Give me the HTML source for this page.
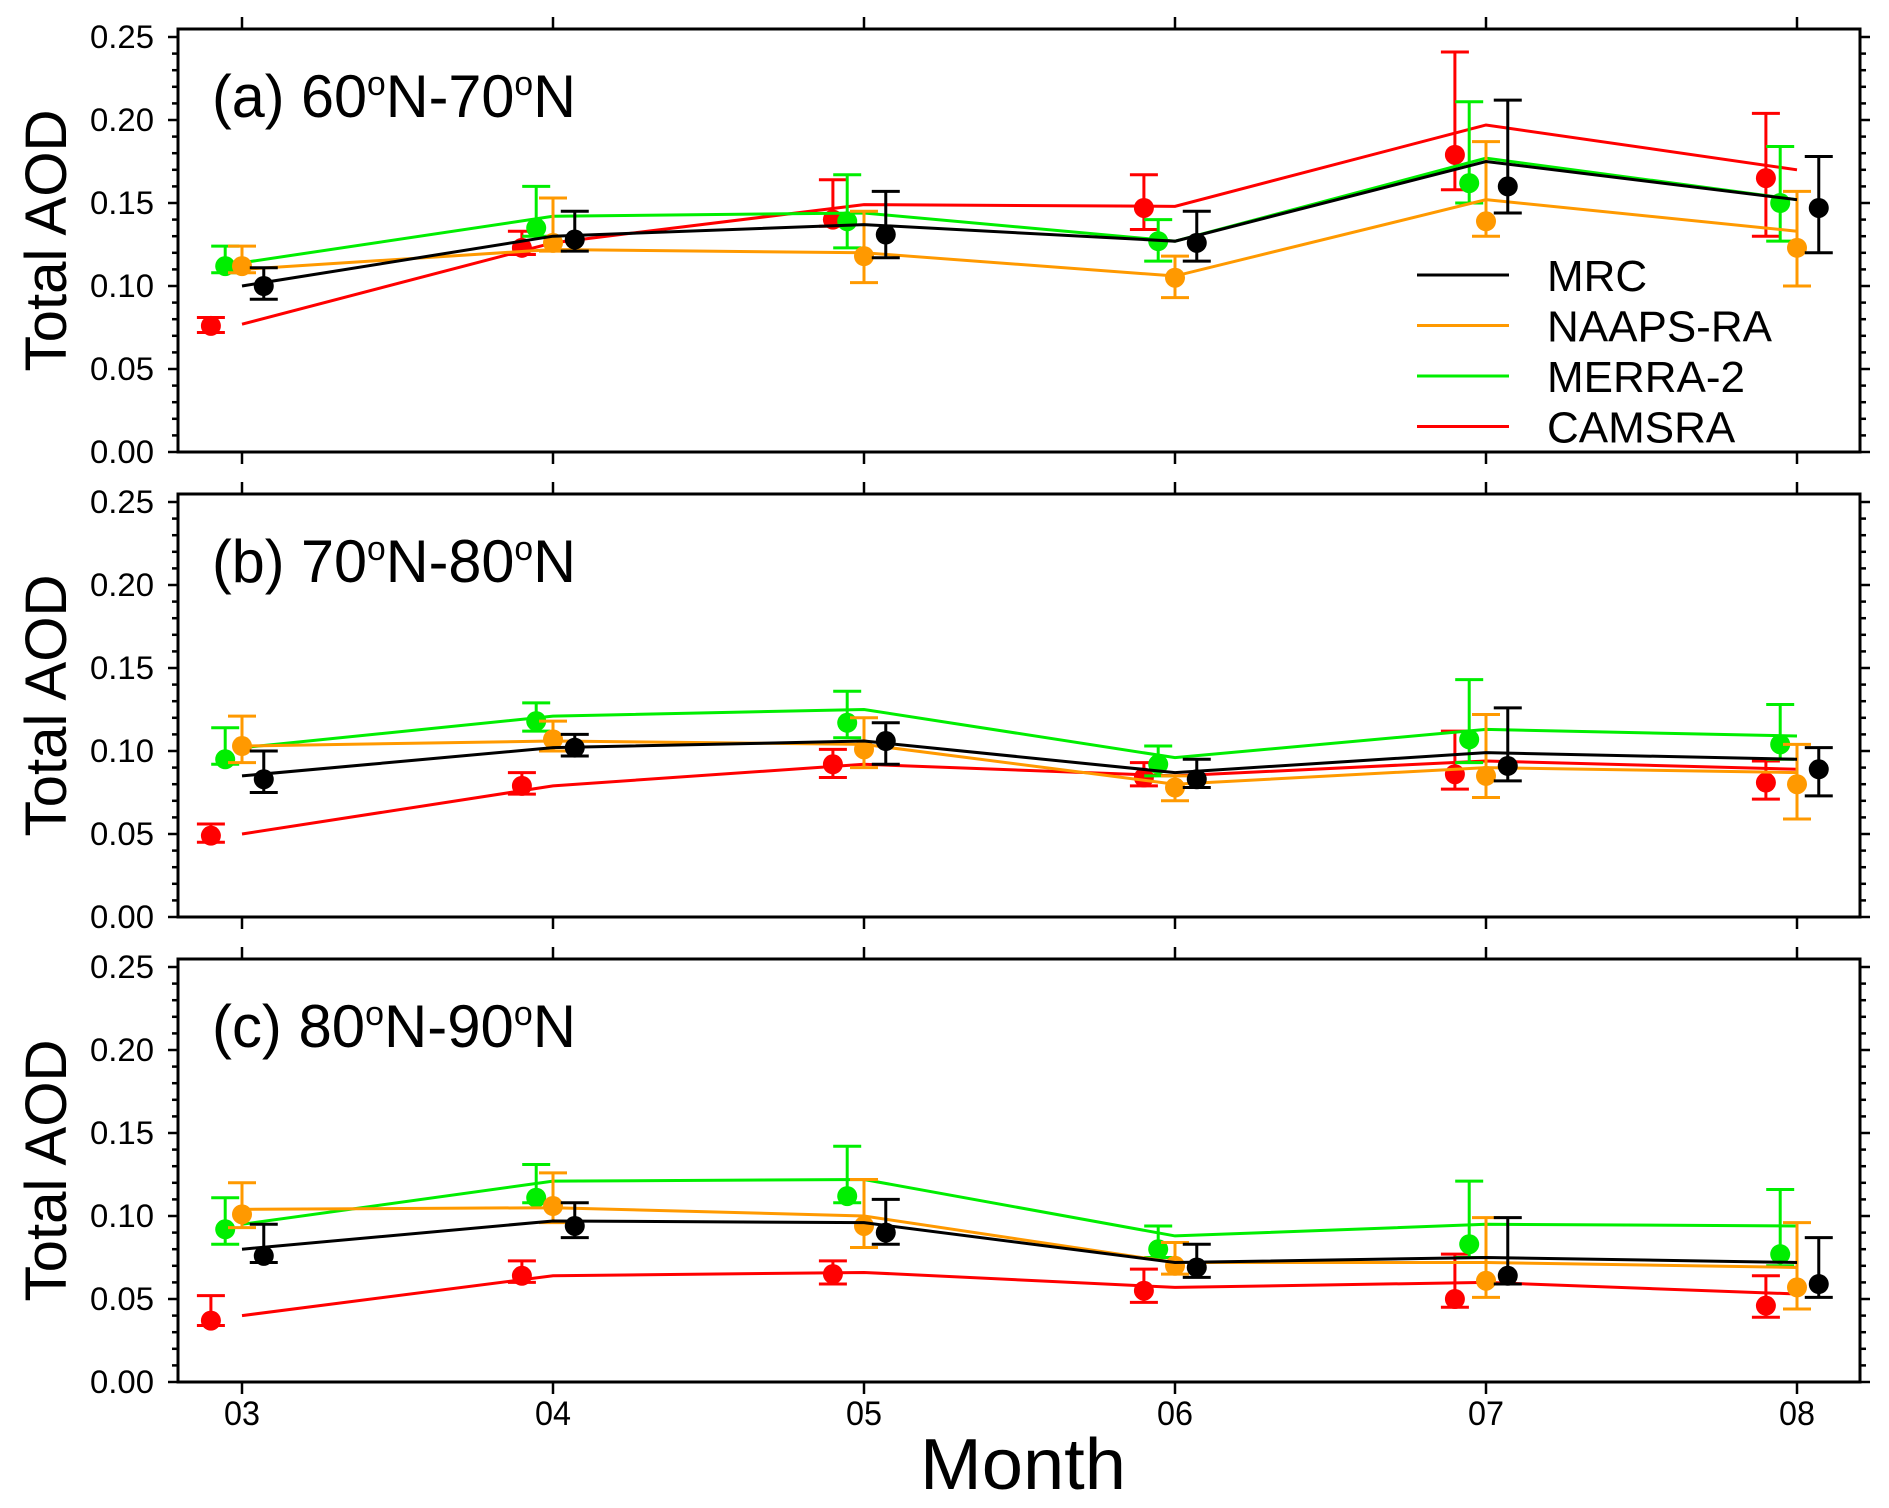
<!DOCTYPE html>
<html><head><meta charset="utf-8"><style>
html,body{margin:0;padding:0;background:#fff;}
svg{display:block;font-family:"Liberation Sans",Arial,sans-serif;}
</style></head><body>
<svg id="chart" width="1889" height="1508" viewBox="0 0 1889 1508" xmlns="http://www.w3.org/2000/svg"></svg>
<script>
const months = ["03","04","05","06","07","08"];
const seriesNames = ["MRC","NAAPS-RA","MERRA-2","CAMSRA"];
const yTicks = [0,0.05,0.10,0.15,0.20,0.25];
const yTickLabels = ["0.00","0.05","0.10","0.15","0.20","0.25"];

// Panel a
const aMrcLine=[0.100,0.130,0.137,0.127,0.175,0.152];
const aMrcPt=[0.100,0.128,0.131,0.126,0.160,0.147];
const aMrcLo=[0.092,0.121,0.117,0.115,0.144,0.120];
const aMrcHi=[0.111,0.145,0.157,0.145,0.212,0.178];
const aNaLine=[0.110,0.122,0.120,0.106,0.152,0.133];
const aNaPt=[0.112,0.126,0.118,0.105,0.139,0.123];
const aNaLo=[0.108,0.121,0.102,0.093,0.130,0.100];
const aNaHi=[0.124,0.153,0.145,0.118,0.187,0.157];
const aMeLine=[0.114,0.142,0.144,0.127,0.177,0.152];
const aMePt=[0.112,0.135,0.139,0.127,0.162,0.150];
const aMeLo=[0.108,0.130,0.123,0.115,0.150,0.127];
const aMeHi=[0.124,0.160,0.167,0.140,0.211,0.184];
const aCaLine=[0.077,0.126,0.149,0.148,0.197,0.170];
const aCaPt=[0.076,0.123,0.140,0.147,0.179,0.165];
const aCaLo=[0.072,0.119,0.136,0.134,0.158,0.130];
const aCaHi=[0.081,0.133,0.164,0.167,0.241,0.204];
// Panel b
const bMrcLine=[0.085,0.102,0.106,0.087,0.099,0.095];
const bMrcPt=[0.083,0.102,0.106,0.083,0.091,0.089];
const bMrcLo=[0.075,0.097,0.092,0.078,0.082,0.073];
const bMrcHi=[0.100,0.110,0.117,0.095,0.126,0.102];
const bNaLine=[0.103,0.106,0.104,0.080,0.090,0.087];
const bNaPt=[0.103,0.107,0.101,0.078,0.085,0.080];
const bNaLo=[0.093,0.100,0.090,0.070,0.072,0.059];
const bNaHi=[0.121,0.118,0.120,0.085,0.122,0.104];
const bMeLine=[0.102,0.121,0.125,0.096,0.113,0.109];
const bMePt=[0.095,0.118,0.117,0.092,0.107,0.104];
const bMeLo=[0.092,0.112,0.108,0.085,0.093,0.095];
const bMeHi=[0.114,0.129,0.136,0.103,0.143,0.128];
const bCaLine=[0.050,0.079,0.092,0.085,0.094,0.089];
const bCaPt=[0.049,0.079,0.092,0.084,0.086,0.081];
const bCaLo=[0.045,0.074,0.084,0.079,0.077,0.071];
const bCaHi=[0.056,0.087,0.101,0.093,0.112,0.094];
// Panel c
const cMrcLine=[0.080,0.097,0.096,0.072,0.075,0.072];
const cMrcPt=[0.076,0.094,0.090,0.069,0.064,0.059];
const cMrcLo=[0.072,0.087,0.083,0.063,0.059,0.051];
const cMrcHi=[0.095,0.108,0.110,0.083,0.099,0.087];
const cNaLine=[0.104,0.105,0.100,0.072,0.072,0.069];
const cNaPt=[0.101,0.106,0.094,0.070,0.061,0.057];
const cNaLo=[0.093,0.096,0.081,0.065,0.051,0.044];
const cNaHi=[0.120,0.126,0.122,0.084,0.099,0.096];
const cMeLine=[0.095,0.121,0.122,0.088,0.095,0.094];
const cMePt=[0.092,0.111,0.112,0.080,0.083,0.077];
const cMeLo=[0.083,0.108,0.108,0.075,0.075,0.070];
const cMeHi=[0.111,0.131,0.142,0.094,0.121,0.116];
const cCaLine=[0.040,0.064,0.066,0.057,0.060,0.053];
const cCaPt=[0.037,0.064,0.065,0.055,0.050,0.046];
const cCaLo=[0.034,0.060,0.059,0.048,0.045,0.039];
const cCaHi=[0.052,0.073,0.073,0.068,0.077,0.064];

const colors=["#000000","#ff9900","#00ee00","#ff0000"];
const offsets=[0.07,0,-0.054,-0.1];
const panels=[
 {y0:452,title:["(a) 60","N-70","N"],s:[[aMrcLine,aMrcPt,aMrcLo,aMrcHi],[aNaLine,aNaPt,aNaLo,aNaHi],[aMeLine,aMePt,aMeLo,aMeHi],[aCaLine,aCaPt,aCaLo,aCaHi]]},
 {y0:917,title:["(b) 70","N-80","N"],s:[[bMrcLine,bMrcPt,bMrcLo,bMrcHi],[bNaLine,bNaPt,bNaLo,bNaHi],[bMeLine,bMePt,bMeLo,bMeHi],[bCaLine,bCaPt,bCaLo,bCaHi]]},
 {y0:1382,title:["(c) 80","N-90","N"],s:[[cMrcLine,cMrcPt,cMrcLo,cMrcHi],[cNaLine,cNaPt,cNaLo,cNaHi],[cMeLine,cMePt,cMeLo,cMeHi],[cCaLine,cCaPt,cCaLo,cCaHi]]}
];
const NS="http://www.w3.org/2000/svg";
const svg=document.getElementById("chart");
const L=178,R=1860,H=415;
function xs(i){return 242+311*i;}
function mk(tag,attrs,parent){const e=document.createElementNS(NS,tag);for(const k in attrs)e.setAttribute(k,attrs[k]);(parent||svg).appendChild(e);return e;}

panels.forEach((p,pi)=>{
 const ys=v=>p.y0-v/0.25*H;
 const top=p.y0-423;
 const g=mk("g",{});
 
 
 for(let k=0;k<=25;k++){
  const y=ys(k*0.01);const len=(k%5===0)?10:6;
  mk("line",{x1:L-len,x2:L,y1:y,y2:y,stroke:"#000","stroke-width":2.5},g);
  mk("line",{x1:R,x2:R+len,y1:y,y2:y,stroke:"#000","stroke-width":2.5},g);
 }
 yTicks.forEach((v,i)=>{
  const t=mk("text",{x:154,y:ys(v)+11,"text-anchor":"end","font-size":32,textLength:64,lengthAdjust:"spacingAndGlyphs"},g);
  t.textContent=yTickLabels[i];
  
  
 });
 months.forEach((m,i)=>{
  mk("line",{x1:xs(i),x2:xs(i),y1:top,y2:top-12,stroke:"#000","stroke-width":2.5},g);
  mk("line",{x1:xs(i),x2:xs(i),y1:p.y0,y2:p.y0+12,stroke:"#000","stroke-width":2.5},g);
 });
 const fr=mk("rect",{x:L,y:top,width:R-L,height:p.y0-top,fill:"none",stroke:"#000","stroke-width":3},g);
 
 
 const yc=(top+p.y0)/2;
 const yt=mk("text",{x:0,y:0,transform:`translate(66,${yc}) rotate(-90)`,"text-anchor":"middle","font-size":58,textLength:262,lengthAdjust:"spacingAndGlyphs"},g);
 yt.textContent="Total AOD";
 
 
 const tt=mk("text",{x:212,y:top+88,"font-size":60,textLength:364,lengthAdjust:"spacingAndGlyphs"},g);
 
 
 tt.appendChild(document.createTextNode(p.title[0]));
 let sp=mk("tspan",{dy:-22,"font-size":34},tt);sp.textContent="o";
 sp=mk("tspan",{dy:22},tt);sp.textContent=p.title[1];
 sp=mk("tspan",{dy:-22,"font-size":34},tt);sp.textContent="o";
 sp=mk("tspan",{dy:22},tt);sp.textContent=p.title[2];
 [3,2,1,0].forEach(si=>{
  const [ln,pt,lo,hi]=p.s[si];const c=colors[si];
  const pl=mk("polyline",{points:ln.map((v,i)=>xs(i)+","+ys(v)).join(" "),fill:"none",stroke:c,"stroke-width":3},g);
  
  
  pt.forEach((v,i)=>{
   const x=xs(i)+offsets[si]*311;
   const eb=mk("path",{d:`M${x},${ys(lo[i])}V${ys(hi[i])}M${x-14},${ys(lo[i])}H${x+14}M${x-14},${ys(hi[i])}H${x+14}`,stroke:c,"stroke-width":3,fill:"none"},g);
   
   
   const ci=mk("circle",{cx:x,cy:ys(v),r:10,fill:c},g);
   
   
  });
 });
});
months.forEach((m,i)=>{
 const t=mk("text",{x:xs(i),y:1425,"text-anchor":"middle","font-size":34,textLength:36,lengthAdjust:"spacingAndGlyphs"});
 t.textContent=m;
 
 
});
const mt=mk("text",{x:1023,y:1489,"text-anchor":"middle","font-size":72,textLength:206,lengthAdjust:"spacingAndGlyphs"});
mt.textContent="Month";


const lg=mk("g",{});


seriesNames.forEach((n,i)=>{
 const y=275+50.5*i;
 const e=mk("g",{},lg);
 
 
 mk("line",{x1:1417,x2:1509,y1:y,y2:y,stroke:colors[i],"stroke-width":3},e);
 const t=mk("text",{x:1547,y:y+16,"font-size":44},e);
 t.textContent=n;
});
</script>
</body></html>
